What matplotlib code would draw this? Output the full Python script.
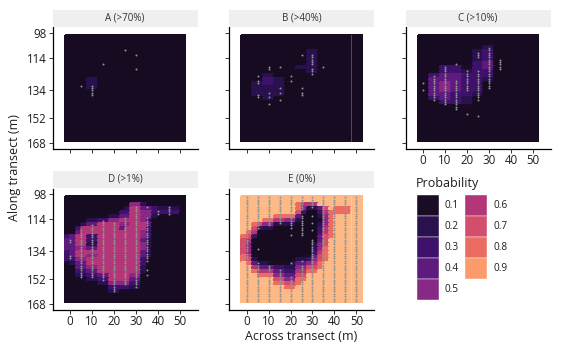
import numpy as np
import matplotlib.pyplot as plt
from matplotlib.colors import LinearSegmentedColormap
from matplotlib.patches import Rectangle

plt.rcParams['font.family'] = ['Open Sans', 'DejaVu Sans']

# colour scale (legend levels plus both ends)
stop_values = [0.0, 0.1, 0.2, 0.3, 0.4, 0.5, 0.6, 0.7, 0.8, 0.9, 1.0]
stop_colors = ['#150a1f', '#1b0c25', '#29104f', '#3e126c', '#5f1a7d', '#882986',
               '#b23678', '#d24d6a', '#ec6b62', '#fb9a6b', '#fdba86']
legend_levels = [0.1, 0.2, 0.3, 0.4, 0.5, 0.6, 0.7, 0.8, 0.9]

panel_titles = ["A (>70%)", "B (>40%)", "C (>10%)", "D (>1%)", "E (0%)"]
x_ticks = [0, 10, 20, 30, 40, 50]
y_ticks = [98, 114, 134, 152, 168]

# 2.5 m cells, x -2.5..52.5, y 99..166.5
cell = 2.5
x_edges = np.arange(-2.5, 52.5 + 0.01, cell)
y_edges = np.arange(99.0, 166.5 + 0.01, cell)

# probability per cell, one char per cell: '0' ~ 0, '1'..'9' = 0.1..0.9, 'a' = 1
level = {'0': 0.04, '1': 0.1, '2': 0.2, '3': 0.3, '4': 0.4, '5': 0.5,
         '6': 0.6, '7': 0.7, '8': 0.8, '9': 0.9, 'a': 1.0}
Z = "0000000000000000000000"

grid_a = [Z] * 11 + ["0000220000000000000000"] * 3 + [Z] * 13

grid_b = [Z] * 4 + [
    "0000000000002200000000",
    "0000000000002200000000",
    "0000000000002200000000",
    "0000000000002200000000",
    "0000000000222200000000",
    "0000000000002200000000",
    "0000220000000000000000",
    "0000332200000000000000",
    "0022332200000000000000",
    "0022222200000000000000",
    "0022222200000000000000",
    "0022222200000000000000",
    "0000220000000000000000",
] + [Z] * 10

grid_c = [Z] * 3 + [
    "0000000000002200000000",
    "0000000000223300000000",
    "0000000000223300000000",
    "0000000000223300000000",
    "0000000000334400000000",
    "0000333311334400000000",
    "0000333322333300000000",
    "0033444433333300000000",
    "0044444433332200000000",
    "0044554433330000000000",
    "0044554433330000000000",
    "0044554433330000000000",
    "0044443333220000000000",
    "0033443322000000000000",
    "0000333322000000000000",
    "0000000011000000000000",
] + [Z] * 8

grid_d = [Z] * 2 + [
    "0000000000005520000000",
    "0000000000026644322220",
    "0000000000336655333330",
    "0000000022446655200100",
    "0000223355666653000000",
    "0002446666556664000000",
    "0036666666466663000000",
    "0046666666666653000000",
    "3466336666666653000000",
    "4466336666666642000000",
    "4466226666666652000000",
    "4455446666666652000000",
    "3466666666666642000000",
    "3466556666666642000000",
    "3355666666666631000000",
    "1244666666666630000000",
    "0044556666666620000000",
    "0033446666666620000000",
    "0022334466665510000000",
    "0000223366664400000000",
    "0000002255553300000000",
    "0000000033332200000000",
    "0000000022110000000000",
] + [Z] * 2

A = "aaaaaaaaaaaaaaaaaaaaaa"
grid_e = [A] * 2 + [
    "aaaaaaaaaa8666aaaaaaaa",
    "aaaaaaaaaa852247a888aa",
    "aaaaaaaaaa7300368888aa",
    "aaaaaa88884000258aaaaa",
    "aaaa8866552000158aaaaa",
    "aa875522220000258aaaaa",
    "aa732200000000368aaaaa",
    "a8600000000000368aaaaa",
    "87300000000000478aaaaa",
    "7600000000000047aaaaaa",
    "7500000000000257aaaaaa",
    "7500000000000258aaaaaa",
    "7500000000000368aaaaaa",
    "8600000000011478aaaaaa",
    "8720000000223578aaaaaa",
    "a84221111244568aaaaaaa",
    "aa6444332255778aaaaaaa",
    "aa866644336688aaaaaaaa",
    "aaa888554477aaaaaaaaaa",
    "aaaaaa775588aaaaaaaaaa",
    "aaaaaa88778aaaaaaaaaaa",
    "aaaaaaaa88aaaaaaaaaaaa",
] + [A] * 3

# sample points: along-transect index k -> y = 100 + 1.5 k, runs (k_first, k_last) per x
sample_y0, sample_dy = 100.0, 1.5
dots_a = {5: [(21, 21)], 10: [(21, 25)], 15: [(12, 12)], 25: [(6, 6)],
          30: [(8, 8), (14, 14)]}
dots_b = {5: [(17, 17), (19, 20), (25, 26)],
          10: [(13, 14), (24, 24), (26, 26), (29, 29)],
          15: [(13, 13), (22, 22), (24, 24), (27, 27)],
          20: [(17, 17), (19, 19)],
          25: [(8, 8), (22, 22), (24, 25)],
          30: [(8, 12), (14, 16)], 35: [(13, 13)]}
dots_c = {0: [(20, 20), (23, 23)], 5: [(17, 27)], 10: [(13, 29)],
          15: [(12, 12), (19, 31)], 20: [(15, 23), (33, 33)],
          25: [(7, 9), (15, 27), (34, 34)], 30: [(5, 22)], 35: [(10, 14)]}
dots_d = {0: [(18, 19), (25, 26)], 5: [(14, 34)], 10: [(12, 34)], 15: [(10, 35)],
          20: [(11, 40)], 25: [(9, 37)], 30: [(4, 38)],
          35: [(4, 4), (9, 27), (31, 31), (33, 33)], 40: [(6, 7)], 45: [(4, 7)]}
dots_e = {0: [(0, 44)], 5: [(0, 13), (22, 22), (28, 44)], 10: [(0, 12), (29, 44)],
          15: [(0, 11), (31, 44)], 20: [(0, 13), (16, 16), (28, 28), (34, 44)],
          25: [(0, 5), (8, 16), (27, 27), (29, 44)],
          30: [(0, 4), (8, 8), (11, 11), (14, 14), (18, 44)],
          35: [(0, 44)], 40: [(0, 44)], 45: [(0, 44)], 50: [(0, 44)]}

grids = [grid_a, grid_b, grid_c, grid_d, grid_e]
dots = [dots_a, dots_b, dots_c, dots_d, dots_e]

cmap = LinearSegmentedColormap.from_list('prob', list(zip(stop_values, stop_colors)))

W, H = 564, 350
fig = plt.figure(figsize=(W / 100, H / 100), dpi=100)


def px_axes(left, top, width, height):
    return fig.add_axes([left / W, 1 - (top + height) / H, width / W, height / H])


# panel positions in pixels (left, top)
positions = [(52.5, 27.5), (229, 27.5), (405.5, 27.5), (52.5, 188.5), (229, 188.5)]
pw, ph = 145, 121
show_x = [False, False, True, True, True]
show_y = [True, False, False, True, False]
seam = [False, True, False, False, True]

for i in range(5):
    left, top = positions[i]
    ax = px_axes(left, top, pw, ph)
    vals = np.array([[level[c] for c in row] for row in grids[i]])
    ax.pcolormesh(x_edges, y_edges, vals, cmap=cmap, vmin=0, vmax=1,
                  shading='flat', edgecolors='face', linewidth=0.2)
    if seam[i]:
        ax.plot([47.5, 47.5], [y_edges[0], y_edges[-1]], color='white',
                lw=0.5, alpha=0.35)
    xs, ys = [], []
    for x, runs in dots[i].items():
        for k0, k1 in runs:
            for k in range(k0, k1 + 1):
                xs.append(x)
                ys.append(sample_y0 + sample_dy * k)
    ax.scatter(xs, ys, s=2.0, c='#939393', linewidths=0, zorder=3)

    ax.set_xlim(-8, 58)
    ax.set_ylim(171.5, 94.5)
    ax.set_xticks(x_ticks)
    ax.set_yticks(y_ticks)
    for s in ['top', 'right']:
        ax.spines[s].set_visible(False)
    for s in ['left', 'bottom']:
        ax.spines[s].set_linewidth(0.9)
        ax.spines[s].set_color('black')
    ax.tick_params(direction='out', length=3, width=0.7, color='#333333',
                   labelsize=8.3, labelcolor='#1e1e1e', pad=1.2)
    if not show_x[i]:
        ax.set_xticklabels([])
    if not show_y[i]:
        ax.set_yticklabels([])

    # facet strip
    sax = px_axes(left, top - 17.5, pw, 16.7)
    sax.set_facecolor('#efefef')
    sax.set_xticks([])
    sax.set_yticks([])
    for s in sax.spines.values():
        s.set_visible(False)
    sax.text(0.5, 0.5, panel_titles[i], ha='center', va='center',
             fontsize=7, color='#333333', transform=sax.transAxes)

fig.text(15 / W, 1 - 168 / H, 'Along transect (m)', rotation=90,
         ha='center', va='center', fontsize=9, color='#1e1e1e')
fig.text(301 / W, 1 - 336 / H, 'Across transect (m)',
         ha='center', va='center', fontsize=9, color='#1e1e1e')

# legend
lax = fig.add_axes([0, 0, 1, 1])
lax.set_xlim(0, W)
lax.set_ylim(H, 0)
lax.axis('off')
lax.text(416, 183, 'Probability', ha='left', va='center', fontsize=9, color='#1e1e1e')
key_w, key_h = 21.5, 20.9
for n, v in enumerate(legend_levels):
    col, row = divmod(n, 5)
    kx = 417 + col * 48.3
    ky = 195 + row * key_h
    lax.add_patch(Rectangle((kx, ky), key_w, key_h, facecolor=cmap(v),
                            edgecolor='#ffffff', linewidth=0.3, alpha=1))
    lax.text(kx + 27.7, ky + key_h / 2, f"{v:.1f}", ha='left', va='center',
             fontsize=7.2, color='#1e1e1e')

fig.savefig('out.png', dpi=100)
